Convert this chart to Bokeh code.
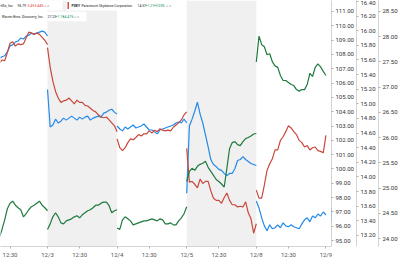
import numpy as np
from bokeh.plotting import figure
from bokeh.models import (Range1d, LinearAxis, FixedTicker, SingleIntervalTicker,
                          PrintfTickFormatter, BoxAnnotation, Label)
from bokeh.embed import file_html
from bokeh.resources import INLINE

# ---------------- data (15-minute readings, trading sessions 09:30-16:00) ----------------
session_labels = ["12/2", "12/3", "12/4", "12/5", "12/8", "12/9"]
tick_labels = ["12:30", "12/3", "12:30", "12/4", "12:30", "12/5", "12:30", "12/8", "12:30", "12/9"]

# NFLX
nflx_d0 = [107.69, 107.83, 107.90, 108.17, 108.59, 108.66, 108.86, 108.93, 109.14, 109.07,
           109.28, 109.34, 109.48, 109.41, 109.48, 109.55, 109.62, 109.55, 109.28]
nflx_d1 = [105.55, 102.93, 103.07, 103.48, 103.21, 103.34, 103.55, 103.41, 103.55, 103.69,
           103.55, 103.41, 103.62, 103.48, 103.62, 103.69, 103.41, 103.55, 103.62, 103.69,
           103.62, 103.90, 103.97, 104.10, 104.17, 103.97, 103.83]
nflx_d2 = [103.00, 102.79, 102.66, 102.93, 102.79, 102.93, 103.07, 102.86, 102.93, 103.00,
           103.14, 102.93, 102.72, 102.72, 102.59, 102.45, 102.72, 102.79, 102.86, 102.93,
           103.00, 103.07, 103.21, 103.28, 103.21, 103.48, 103.21]
nflx_d3 = [98.31, 103.00, 103.48, 104.03, 104.66, 103.83, 103.21, 102.38, 101.55, 100.66,
           100.31, 100.17, 99.97, 99.90, 99.69, 99.55, 99.69, 99.69, 100.03, 100.59,
           100.66, 100.86, 100.66, 100.52, 100.38, 100.31, 100.24]
nflx_d4 = [97.76, 97.28, 96.59, 96.03, 95.69, 96.10, 95.83, 95.90, 96.10, 95.90,
           96.24, 96.03, 95.97, 96.10, 95.97, 95.90, 95.83, 96.17, 96.45, 96.59,
           96.31, 96.72, 96.59, 96.86, 96.72, 97.00, 96.79]

# PSKY
psky_d0 = [15.56, 15.60, 15.59, 15.70, 15.83, 15.85, 15.79, 15.82, 15.81, 15.82,
           15.90, 15.98, 15.97, 15.95, 15.97, 15.95, 15.91, 15.87, 15.81]
psky_d1 = [15.77, 15.50, 15.31, 15.17, 15.08, 15.02, 15.04, 15.05, 15.08, 15.04,
           15.00, 15.05, 15.02, 15.02, 14.98, 14.97, 14.94, 14.91, 14.89, 14.85,
           14.82, 14.81, 14.82, 14.78, 14.74, 14.70, 14.62]
psky_d2 = [14.52, 14.40, 14.36, 14.40, 14.47, 14.52, 14.51, 14.54, 14.58, 14.56,
           14.59, 14.59, 14.63, 14.60, 14.64, 14.62, 14.66, 14.64, 14.63, 14.64,
           14.63, 14.68, 14.71, 14.74, 14.78, 14.85, 14.89]
psky_d3 = [14.39, 13.93, 13.94, 13.90, 13.85, 13.97, 13.91, 13.94, 13.94, 13.81,
           13.71, 13.68, 13.68, 13.64, 13.72, 13.78, 13.68, 13.62, 13.62, 13.59,
           13.60, 13.59, 13.66, 13.51, 13.43, 13.23, 13.36]
psky_d4 = [13.82, 13.71, 13.71, 13.89, 14.09, 14.18, 14.25, 14.37, 14.37, 14.50,
           14.55, 14.62, 14.70, 14.67, 14.62, 14.58, 14.50, 14.47, 14.41, 14.43,
           14.37, 14.40, 14.41, 14.36, 14.35, 14.33, 14.57]

# WBD
wbd_d0 = [24.02, 24.18, 24.37, 24.59, 24.70, 24.74, 24.66, 24.61, 24.57, 24.43,
          24.49, 24.57, 24.63, 24.66, 24.70, 24.74, 24.66, 24.61, 24.55]
wbd_d1 = [24.18, 24.29, 24.43, 24.51, 24.43, 24.31, 24.29, 24.35, 24.37, 24.39,
          24.43, 24.45, 24.41, 24.47, 24.51, 24.55, 24.57, 24.61, 24.66, 24.66,
          24.70, 24.72, 24.72, 24.65, 24.51, 24.55, 24.57]
wbd_d2 = [24.21, 24.18, 24.37, 24.43, 24.39, 24.35, 24.27, 24.29, 24.31, 24.33,
          24.35, 24.35, 24.37, 24.39, 24.37, 24.35, 24.39, 24.37, 24.29, 24.29,
          24.31, 24.27, 24.27, 24.35, 24.41, 24.49, 24.63]
wbd_d3 = [25.13, 25.33, 25.39, 25.35, 25.43, 25.47, 25.49, 25.53, 25.41, 25.33,
          25.25, 25.17, 25.13, 25.08, 25.02, 25.39, 25.78, 25.90, 25.92, 25.86,
          25.84, 25.92, 25.98, 26.00, 26.03, 26.07, 26.08]
wbd_d4 = [27.50, 28.01, 27.84, 27.80, 27.64, 27.66, 27.50, 27.42, 27.39, 27.23,
          27.13, 27.13, 27.09, 27.05, 27.03, 26.95, 26.92, 26.95, 26.95, 27.05,
          27.27, 27.21, 27.39, 27.46, 27.40, 27.31, 27.23]

nflx_info = ("NFLX", "Netflix, Inc.", "96.79", "-3.45", "-3.44%")
psky_info = ("PSKY", "Paramount Skydance Corporation", "14.57", "+1.21", "+9.03%")
wbd_info = ("WBD", "Warner Bros. Discovery, Inc.", "27.23", "+1.15", "+4.41%")

# ---------------- layout / style ----------------
SESSION_H = 6.5
STEP_H = 0.25
SLOTS = 27
FONT = "Roboto"

BLUE, RED, GREEN = "#2489e8", "#c9473b", "#1f7a3d"
TAG_BLUE, TAG_RED, TAG_GREEN = "#2196f3", "#c8453a", "#238043"
UP, DOWN, INK = "#15935a", "#e0433c", "#222222"


def build(days):
    xs, ys = [], []
    for s, vals in enumerate(days):
        if s:
            xs.append(np.nan)
            ys.append(np.nan)
        start = SLOTS - len(vals)
        xs += [s * SESSION_H + (start + k) * STEP_H for k in range(len(vals))]
        ys += list(vals)
    return xs, ys


p = figure(width=400, height=260, output_backend="svg", toolbar_location=None,
           x_range=Range1d(2.11, 33.02), y_range=Range1d(94.59, 111.76),
           y_axis_location="right", min_border=0, min_border_left=0,
           min_border_right=0, min_border_top=0, min_border_bottom=0)
p.extra_y_ranges = {"psky": Range1d(13.049, 16.4135), "wbd": Range1d(23.842, 28.715)}
p.outline_line_color = None
p.grid.visible = False
p.background_fill_color = "white"
p.border_fill_color = "white"

# shaded alternate sessions
for s in (1, 3):
    p.add_layout(BoxAnnotation(left=s * SESSION_H, right=(s + 1) * SESSION_H,
                               fill_color="#f0f0f0", fill_alpha=1.0, line_color=None,
                               level="underlay"))


def style_axis(ax, standoff):
    ax.major_label_text_font = FONT
    ax.major_label_text_font_size = "6px"
    ax.major_label_text_color = "#333333"
    ax.axis_line_color = "#d4d4d4"
    ax.major_tick_line_color = "#b0b0b0"
    ax.major_tick_out = 2
    ax.major_tick_in = 0
    ax.minor_tick_line_color = None
    ax.major_label_standoff = standoff
    ax.axis_label_standoff = 0


ax_n = p.yaxis[0]
ax_n.ticker = SingleIntervalTicker(interval=1)
ax_n.formatter = PrintfTickFormatter(format="%.2f")
style_axis(ax_n, 0)

ax_p = LinearAxis(y_range_name="psky", ticker=SingleIntervalTicker(interval=0.2),
                  formatter=PrintfTickFormatter(format="%.2f"))
style_axis(ax_p, 0)
p.add_layout(ax_p, "right")

ax_w = LinearAxis(y_range_name="wbd", ticker=SingleIntervalTicker(interval=0.5),
                  formatter=PrintfTickFormatter(format="%.2f"))
style_axis(ax_w, 0)
p.add_layout(ax_w, "right")

tick_pos = [3.0, 6.5, 9.5, 13.0, 16.0, 19.5, 22.5, 26.0, 29.0, 32.5]
xa = p.xaxis[0]
xa.ticker = FixedTicker(ticks=tick_pos)
xa.major_label_overrides = {t: l for t, l in zip(tick_pos, tick_labels)}
xa.major_label_text_font = FONT
xa.major_label_text_font_size = "6px"
xa.major_label_text_color = "#555555"
xa.axis_line_color = "#d4d4d4"
xa.major_tick_line_color = "#b0b0b0"
xa.major_tick_out = 2
xa.major_tick_in = 0
xa.minor_tick_line_color = None
xa.major_label_standoff = 2
xa.axis_label_standoff = 0

# lines
x, y = build([nflx_d0, nflx_d1, nflx_d2, nflx_d3, nflx_d4])
p.line(x, y, line_color=BLUE, line_width=1.2)
x, y = build([psky_d0, psky_d1, psky_d2, psky_d3, psky_d4])
p.line(x, y, line_color=RED, line_width=1.2, y_range_name="psky")
x, y = build([wbd_d0, wbd_d1, wbd_d2, wbd_d3, wbd_d4])
p.line(x, y, line_color=GREEN, line_width=1.2, y_range_name="wbd")

# ---------------- price tags on the axes ----------------
TOP = p.y_range.end


def tag(x0, x1, price, rng, half, color, sym, txt):
    p.add_layout(BoxAnnotation(left=x0, right=x1, left_units="screen", right_units="screen",
                               top=price + half, bottom=price - half, y_range_name=rng,
                               fill_color=color, fill_alpha=1.0, line_color=None,
                               level="annotation"))
    for t, off in ((sym, 3.3), (txt, -3.3)):
        p.add_layout(Label(x=(x0 + x1) / 2, y=price, x_units="screen", y_range_name=rng,
                           y_offset=off, text=t, text_align="center", text_baseline="middle",
                           text_color="white", text_font=FONT, text_font_size="5.5px",
                           text_font_style="bold"))


tag(331, 354, float(nflx_d4[-1]), "default", 0.48, TAG_BLUE, nflx_info[0], nflx_info[2])
tag(354, 378, float(psky_d4[-1]), "psky", 0.10, TAG_RED, psky_info[0], psky_info[2])
tag(378, 400, float(wbd_d4[-1]), "wbd", 0.14, TAG_GREEN, wbd_info[0], wbd_info[2])

# ---------------- legend rows at the top ----------------
PX = 14.5  # px per NFLX dollar, used to place legend boxes from the top


def box(x0, x1, top_px, bot_px, color="white"):
    p.add_layout(BoxAnnotation(left=x0, right=x1, left_units="screen", right_units="screen",
                               top=TOP - top_px / PX, bottom=TOP - bot_px / PX,
                               fill_color=color, fill_alpha=1.0, line_color=None,
                               level="annotation"))


def txt(x0, ypx, t, color=INK, align="left", style="normal"):
    p.add_layout(Label(x=x0, y=TOP, x_units="screen", y_offset=-ypx, text=t,
                       text_align=align, text_baseline="middle", text_color=color,
                       text_font=FONT, text_font_size="3.4px", text_font_style=style))


box(-5, 62, 0, 10)
box(66, 176, 0, 10)
box(-5, 86, 11.5, 21)
box(67, 68.4, 1.5, 8.5, RED)

txt(13, 5, nflx_info[1], align="right")
txt(17, 5, nflx_info[2])
txt(26, 5, nflx_info[3], DOWN)
txt(33, 5, nflx_info[4], DOWN)
txt(43, 5, "∠  ×", "#9a9a9a")

txt(71, 5, psky_info[0], style="bold")
txt(81, 5, psky_info[1])
txt(137, 5, psky_info[2])
txt(145, 5, psky_info[3], UP)
txt(153, 5, psky_info[4], UP)
txt(165, 5, "∠  ×", "#9a9a9a")

txt(43, 16, wbd_info[1], align="right")
txt(47, 16, wbd_info[2])
txt(55, 16, wbd_info[3], UP)
txt(62, 16, wbd_info[4], UP)
txt(73, 16, "∠  ×", "#9a9a9a")

open("out.html", "w").write(file_html(p, INLINE))
